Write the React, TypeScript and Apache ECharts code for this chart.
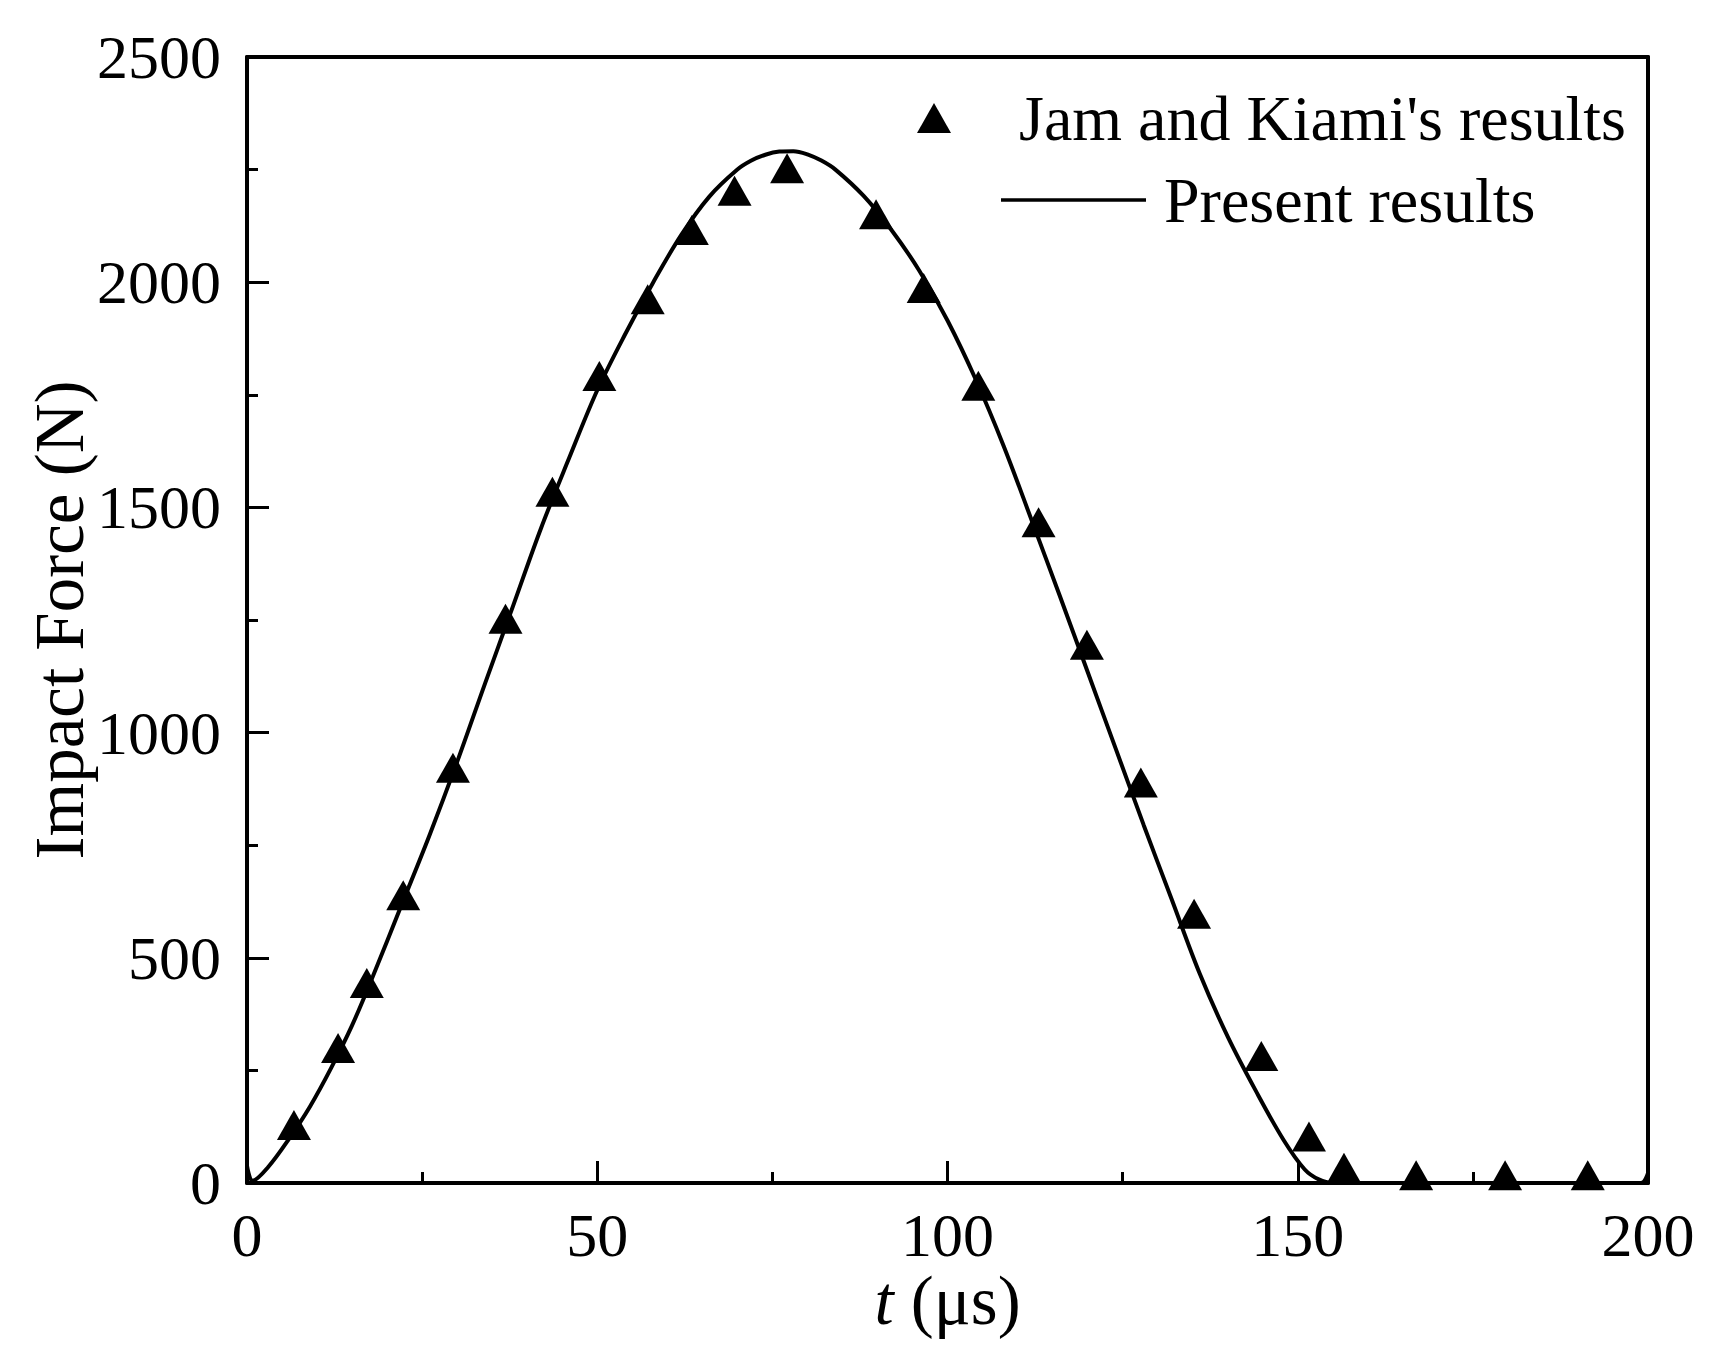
import React, { useEffect, useRef } from 'react';
import * as echarts from 'echarts';

const FONT = 'Liberation Serif';

// Present results (curve)
const tCurve = [0, 0.8, 3, 6, 9, 12, 15, 18, 22, 26, 30, 34, 38, 42, 46, 50, 54, 58, 62, 66, 70, 72, 74, 76, 78, 80, 82, 84, 88, 92, 96, 100, 104, 108, 112, 116, 120, 124, 128, 132, 136, 140, 144, 148, 151, 153, 155, 160, 170, 180, 190, 199, 200];
const fCurve = [38, 5, 35, 98, 170, 255, 350, 460, 615, 770, 935, 1110, 1282, 1455, 1610, 1760, 1885, 2000, 2105, 2190, 2250, 2270, 2283, 2290, 2291, 2284, 2270, 2250, 2192, 2116, 2025, 1915, 1785, 1637, 1472, 1305, 1135, 965, 795, 630, 465, 325, 205, 95, 30, 8, 0, 0, 0, 0, 0, 0, 22];

// Jam and Kiami's results (triangles)
const tJam = [6.7, 13.0, 17.1, 22.3, 29.4, 36.9, 43.6, 50.3, 57.2, 63.5, 69.6, 77.1, 89.8, 96.6, 104.4, 113.0, 119.9, 127.6, 135.2, 144.8, 151.6, 156.6, 166.9, 179.6, 191.4];
const fJam = [129, 300, 444, 639, 922, 1253, 1535, 1792, 1962, 2116, 2203, 2253, 2151, 1987, 1770, 1467, 1195, 889, 598, 282, 103, 34, 17, 17, 17];

const xRange = [0, 200];
const yRange = [0, 2500];

export default function App() {
  const ref = useRef<HTMLDivElement>(null);
  useEffect(() => {
    const chart = echarts.init(ref.current!, null, { renderer: 'svg' });
    const axisLineStyle = { color: '#000', width: 4 };
    const tickStyle = { color: '#000', width: 3 };
    const labelStyle = { fontSize: 62, fontFamily: FONT, color: '#000' };
    const legendText = { fontSize: 64, fontFamily: FONT, color: '#000' };
    const nameStyle = { fontSize: 69, fontFamily: FONT, color: '#000', lineHeight: 56 };
    chart.setOption({
      animation: false,
      backgroundColor: '#fff',
      grid: { left: 247, right: 79, top: 57, bottom: 183, containLabel: false },
      legend: [
        {
          data: [{ name: "Jam and Kiami's results", icon: 'triangle' }],
          left: 917,
          top: 86,
          padding: 0,
          itemWidth: 34,
          itemHeight: 30,
          itemStyle: { opacity: 1 },
          textStyle: { ...legendText, padding: [0, 0, 0, 63] },
        },
        {
          data: [{ name: 'Present results', icon: 'rect' }],
          left: 1001,
          top: 168,
          padding: 0,
          itemWidth: 145,
          itemHeight: 3.6,
          textStyle: { ...legendText, padding: [0, 0, 0, 13] },
        },
      ],
      xAxis: [
        {
          type: 'value',
          min: xRange[0],
          max: xRange[1],
          interval: 50,
          position: 'bottom',
          axisLine: { show: true, onZero: false, lineStyle: axisLineStyle },
          axisTick: { show: true, inside: true, length: 22, lineStyle: tickStyle },
          minorTick: { show: true, splitNumber: 2, length: 11, lineStyle: tickStyle },
          axisLabel: { ...labelStyle, lineHeight: 50, margin: 27, formatter: (v: number) => String(v) },
          splitLine: { show: false },
          name: '{i|t} (μs)',
          nameLocation: 'middle',
          nameGap: 90,
          nameMoveOverlap: false,
          nameTextStyle: { ...nameStyle, rich: { i: { ...nameStyle, fontStyle: 'italic' } } },
        },
        {
          type: 'value',
          min: xRange[0],
          max: xRange[1],
          position: 'top',
          axisLine: { show: true, onZero: false, lineStyle: axisLineStyle },
          axisTick: { show: false },
          axisLabel: { show: false },
          splitLine: { show: false },
        },
      ],
      yAxis: [
        {
          type: 'value',
          min: yRange[0],
          max: yRange[1],
          interval: 500,
          position: 'left',
          axisLine: { show: true, onZero: false, lineStyle: axisLineStyle },
          axisTick: { show: true, inside: true, length: 22, lineStyle: tickStyle },
          minorTick: { show: true, splitNumber: 2, length: 11, lineStyle: tickStyle },
          axisLabel: { ...labelStyle, margin: 26, formatter: (v: number) => String(v) },
          splitLine: { show: false },
          name: 'Impact Force (N)',
          nameLocation: 'middle',
          nameGap: 159,
          nameMoveOverlap: false,
          nameTextStyle: nameStyle,
        },
        {
          type: 'value',
          min: yRange[0],
          max: yRange[1],
          position: 'right',
          axisLine: { show: true, onZero: false, lineStyle: axisLineStyle },
          axisTick: { show: false },
          axisLabel: { show: false },
          splitLine: { show: false },
        },
      ],
      series: [
        {
          type: 'line',
          name: 'Present results',
          data: tCurve.map((t, i) => [t, fCurve[i]]),
          symbol: 'none',
          smooth: 0.35,
          clip: true,
          lineStyle: { color: '#000', width: 4 },
          itemStyle: { color: '#000' },
          z: 2,
        },
        {
          type: 'scatter',
          name: "Jam and Kiami's results",
          data: tJam.map((t, i) => [t, fJam[i]]),
          symbol: 'triangle',
          symbolSize: [34, 30],
          itemStyle: { color: '#000', opacity: 1 },
          z: 3,
        },
      ],
    });
    return () => chart.dispose();
  }, []);
  return (
    <div
      ref={ref}
      style={{ position: 'absolute', left: 0, top: 0, width: 1727, height: 1366, background: '#fff' }}
    />
  );
}
